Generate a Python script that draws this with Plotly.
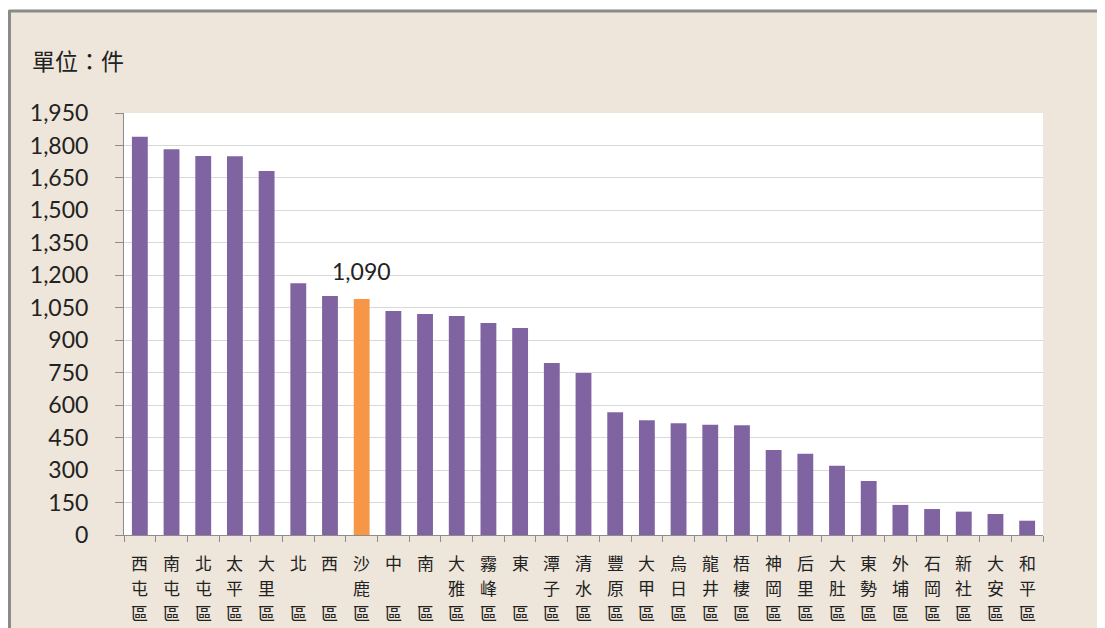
import plotly.graph_objects as go

districts = ["西屯區", "南屯區", "北屯區", "太平區", "大里區", "北區", "西區", "沙鹿區",
             "中區", "南區", "大雅區", "霧峰區", "東區", "潭子區", "清水區", "豐原區",
             "大甲區", "烏日區", "龍井區", "梧棲區", "神岡區", "后里區", "大肚區", "東勢區",
             "外埔區", "石岡區", "新社區", "大安區", "和平區"]
values = [1840, 1782, 1751, 1750, 1682, 1163, 1104, 1090,
          1035, 1021, 1012, 980, 957, 795, 749, 567,
          530, 516, 510, 507, 393, 376, 320, 250,
          139, 120, 108, 97, 66]
highlight = "沙鹿區"
unit_label = "單位：件"
y_ticks = list(range(0, 1951, 150))

PURPLE = "#8064A2"
ORANGE = "#F79646"
BEIGE = "#EEE6DA"
TEXT = "#222222"

# page has an 8px body margin; the figure is placed at (8, 8) on screen
OFF = 8
W, H = 1105 - OFF, 628 - OFF
PX0, PX1, PY0, PY1 = 124, 1043, 113, 535   # plot area on screen
L, T = PX0 - OFF, PY0 - OFF
R, B = W + OFF - PX1, H + OFF - PY1
pw, ph = PX1 - PX0, PY1 - PY0


def px_x(p):
    return (p - PX0) / pw


def px_y(p):
    return (PY1 - p) / ph


def rows(name):
    chars = list(name)
    if len(chars) == 2:
        return [chars[0], None, chars[1]]
    return chars


colors = [ORANGE if d == highlight else PURPLE for d in districts]

fig = go.Figure()
fig.add_trace(go.Bar(x=districts, y=values, marker=dict(color=colors, line=dict(width=0)),
                     hoverinfo="x+y"))

hv = values[districts.index(highlight)]
fig.add_annotation(x=highlight, y=hv, text=f"{hv:,}", showarrow=False,
                   yanchor="middle", yshift=28,
                   font=dict(family="Lato", size=23, color=TEXT))

# vertical category labels, one character per row
row_centers = [562, 587, 612]
for d in districts:
    for ch, yc in zip(rows(d), row_centers):
        if ch is None:
            continue
        fig.add_annotation(x=d, y=px_y(yc), xref="x", yref="paper", text=ch,
                           showarrow=False, xanchor="center", yanchor="middle",
                           font=dict(family="Noto Sans CJK TC", size=17, color=TEXT))

fig.add_annotation(x=px_x(30), y=px_y(60), xref="paper", yref="paper",
                   xanchor="left", yanchor="middle", text=unit_label, showarrow=False,
                   font=dict(family="Noto Sans CJK TC", size=23, color=TEXT))

# white strip outside the frame and the gray frame line
fig.add_shape(type="rect", xref="paper", yref="paper", x0=px_x(0), x1=px_x(1110),
              y0=px_y(10), y1=px_y(0), fillcolor="white", line=dict(width=0), layer="below")
fig.add_shape(type="line", xref="paper", yref="paper", x0=px_x(9), x1=px_x(1110),
              y0=px_y(11), y1=px_y(11), line=dict(color="#8A8A8A", width=3))
fig.add_shape(type="line", xref="paper", yref="paper", x0=px_x(9.5), x1=px_x(9.5),
              y0=px_y(10), y1=px_y(640), line=dict(color="#8A8A8A", width=3))

fig.update_layout(
    width=W, height=H,
    margin=dict(l=L, r=R, t=T, b=B, autoexpand=False),
    paper_bgcolor=BEIGE, plot_bgcolor="white",
    bargap=0.5, showlegend=False,
)
fig.update_xaxes(
    showticklabels=False, automargin=False,
    ticks="outside", ticklen=6, tickcolor="#8C8C8C", tickson="boundaries",
    showline=True, linecolor="#8C8C8C", linewidth=1, fixedrange=True,
)
fig.update_yaxes(
    range=[0, 1950], tickvals=y_ticks, ticktext=[f"{v:,}" for v in y_ticks],
    automargin=False,
    ticks="outside", ticklen=8, tickcolor="#8C8C8C",
    showline=True, linecolor="#8C8C8C", linewidth=1,
    showgrid=True, gridcolor="#D9D9D9", gridwidth=1, zeroline=False,
    tickfont=dict(family="Lato", size=23, color=TEXT),
    ticklabelstandoff=22, fixedrange=True,
)

fig.write_html("out.html")
